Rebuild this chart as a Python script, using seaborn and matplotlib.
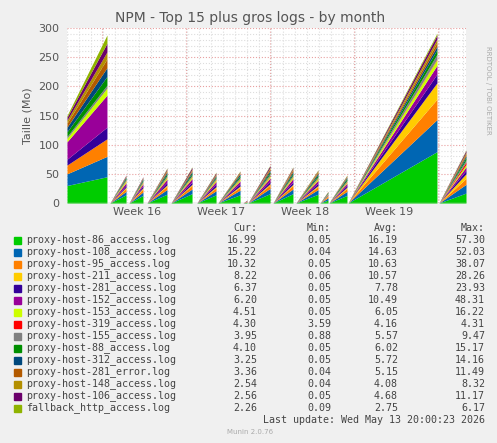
import matplotlib
matplotlib.use("Agg")
import matplotlib.pyplot as plt
import seaborn as sns
import numpy as np

sns.set_theme(style="white")
plt.rcParams['font.family'] = ['DejaVu Sans']

names = ['proxy-host-86_access.log', 'proxy-host-108_access.log', 'proxy-host-95_access.log',
         'proxy-host-211_access.log', 'proxy-host-281_access.log', 'proxy-host-152_access.log',
         'proxy-host-153_access.log', 'proxy-host-319_access.log', 'proxy-host-155_access.log',
         'proxy-host-88_access.log', 'proxy-host-312_access.log', 'proxy-host-281_error.log',
         'proxy-host-148_access.log', 'proxy-host-106_access.log', 'fallback_http_access.log']
colors = ['#00CC00', '#0066B3', '#FF8000', '#FFCC00', '#330099', '#990099', '#CCFF00', '#FF0000',
          '#808080', '#008F00', '#00487D', '#B35A00', '#B38F00', '#6B006B', '#8FB300']
cur = ['16.99', '15.22', '10.32', '8.22', '6.37', '6.20', '4.51', '4.30', '3.95', '4.10', '3.25', '3.36', '2.54', '2.56', '2.26']
mins = ['0.05', '0.04', '0.05', '0.06', '0.05', '0.05', '0.05', '3.59', '0.88', '0.05', '0.05', '0.04', '0.04', '0.05', '0.09']
avgs = ['16.19', '14.63', '10.63', '10.57', '7.78', '10.49', '6.05', '4.16', '5.57', '6.02', '5.72', '5.15', '4.08', '4.68', '2.75']
maxs = ['57.30', '52.03', '38.07', '28.26', '23.93', '48.31', '16.22', '4.31', '9.47', '15.17', '14.16', '11.49', '8.32', '11.17', '6.17']

# segments in days from left edge: (start, end)
seg_times = [(0, 3.33), (3.58, 4.92), (5.17, 6.33), (6.67, 8.33), (8.67, 10.42), (10.83, 12.42),
             (12.58, 14.42), (14.67, 15.0), (15.08, 16.92), (17.17, 18.83), (19.08, 20.92),
             (21.08, 21.75), (21.83, 23.33), (23.42, 30.83), (31.0, 33.25)]
# stack values at start of first segment (others start at 0)
first_start = [30, 20, 15, 0, 10, 30, 6, 0, 3, 8, 8, 7, 5, 5, 3]
# stack values at end of each segment, one row per segment, one column per series
seg_end = [
    [45, 35, 30, 0, 20, 55, 12, 0, 5, 15, 15, 15, 12, 15, 14],
    [14, 6, 5, 2, 3, 5, 3, 1, 2, 2, 2, 1, 1, 1, 0],
    [13, 6, 5, 2, 3, 4, 2, 1, 2, 2, 2, 1, 1, 1, 0],
    [15, 8, 6, 2, 4, 6, 3, 1, 2, 3, 3, 2, 2, 2, 1],
    [16, 8, 6, 2, 4, 6, 3, 1, 2, 3, 3, 2, 2, 3, 1],
    [14, 7, 5, 2, 4, 5, 3, 1, 2, 2, 2, 2, 1, 2, 1],
    [14, 8, 5, 2, 4, 5, 3, 1, 2, 3, 3, 2, 1, 1, 1],
    [1, 1, 1, 0, 0, 0, 0, 0, 0, 0, 0, 0, 1, 1, 0],
    [16, 9, 6, 2, 4, 6, 3, 1, 3, 3, 3, 3, 2, 3, 1],
    [16, 8, 6, 2, 4, 6, 3, 1, 2, 3, 3, 3, 2, 2, 1],
    [15, 8, 5, 2, 4, 5, 3, 1, 2, 3, 3, 2, 2, 1, 1],
    [5, 4, 3, 1, 1, 1, 1, 0, 1, 1, 1, 1, 0, 0, 0],
    [13, 7, 5, 2, 3, 4, 2, 1, 2, 3, 2, 1, 1, 1, 1],
    [88, 55, 35, 28, 15, 15, 10, 1, 8, 8, 6, 6, 6, 7, 3],
    [17, 15, 10, 8, 6, 6, 4, 4, 4, 4, 3, 3, 3, 3, 1],
]

W, H = 497, 443
fig = plt.figure(figsize=(W / 100, H / 100), dpi=100, facecolor='#F0F0F0')
ax = fig.add_axes([67 / W, 1 - 203 / H, (466 - 67) / W, (203 - 28) / H])
ax.set_facecolor('white')

for i, (t0, t1) in enumerate(seg_times):
    start = first_start if i == 0 else [0] * len(names)
    ys = [[s, e] for s, e in zip(start, seg_end[i])]
    ax.stackplot([t0, t1], ys, colors=colors, linewidth=0)

ax.set_xlim(0, 33.25)
ax.set_ylim(0, 300)
ax.set_yticks(range(0, 301, 50))
ax.set_yticks(range(0, 301, 10), minor=True)
ax.set_xticks(np.arange(0, 33.3, 1), minor=True)
ax.set_xticks([2.92, 9.92, 16.92, 23.92, 30.92])
ax.set_xticklabels([])
for xl, lab in zip([5.83, 12.83, 19.83, 26.83], ['Week 16', 'Week 17', 'Week 18', 'Week 19']):
    ax.text(xl, -6, lab, ha='center', va='top', fontsize=8, color='#555555')
ax.grid(True, which='minor', color='#DDDDDD', linestyle=':', linewidth=0.8)
ax.grid(True, which='major', color='#E8A0A0', linestyle=':', linewidth=0.8)
ax.set_axisbelow(True)
ax.tick_params(axis='y', labelsize=8, colors='#555555', length=2)
ax.tick_params(axis='x', length=2)
for s in ax.spines.values():
    s.set_visible(False)
ax.axhline(0, color='#BBBBBB', linewidth=1)
ax.set_ylabel('Taille (Mo)', fontsize=8, color='#555555')

fig.text(250 / W, 1 - 18 / H, 'NPM - Top 15 plus gros logs - by month', ha='center', va='center',
         fontsize=10, color='#555555')
fig.text(488 / W, 1 - 90 / H, 'RRDTOOL / TOBI OETIKER', rotation=270, ha='center', va='center',
         fontsize=5, color='#AAAAAA')

fs = 7.2
mono = 'DejaVu Sans Mono'
tc = '#444444'
y0 = 228
for x, lab in zip([257, 331, 398, 485], ['Cur:', 'Min:', 'Avg:', 'Max:']):
    fig.text(x / W, 1 - y0 / H, lab, ha='right', va='center', fontsize=fs, color=tc, family=mono)
for i, n in enumerate(names):
    yy = 1 - (240 + 12 * i) / H
    fig.patches.append(plt.Rectangle((14 / W, yy - 3.5 / H), 7 / W, 7 / H, color=colors[i],
                                     transform=fig.transFigure, figure=fig))
    fig.text(26 / W, yy, n, ha='left', va='center', fontsize=fs, color=tc, family=mono)
    for x, v in zip([257, 331, 398, 485], [cur[i], mins[i], avgs[i], maxs[i]]):
        fig.text(x / W, yy, v, ha='right', va='center', fontsize=fs, color=tc, family=mono)
fig.text(485 / W, 1 - 420 / H, 'Last update: Wed May 13 20:00:23 2026', ha='right', va='center',
         fontsize=fs, color=tc, family=mono)
fig.text(250 / W, 1 - 432 / H, 'Munin 2.0.76', ha='center', va='center', fontsize=5, color='#AAAAAA')

fig.savefig('out.png', dpi=100, facecolor=fig.get_facecolor())
